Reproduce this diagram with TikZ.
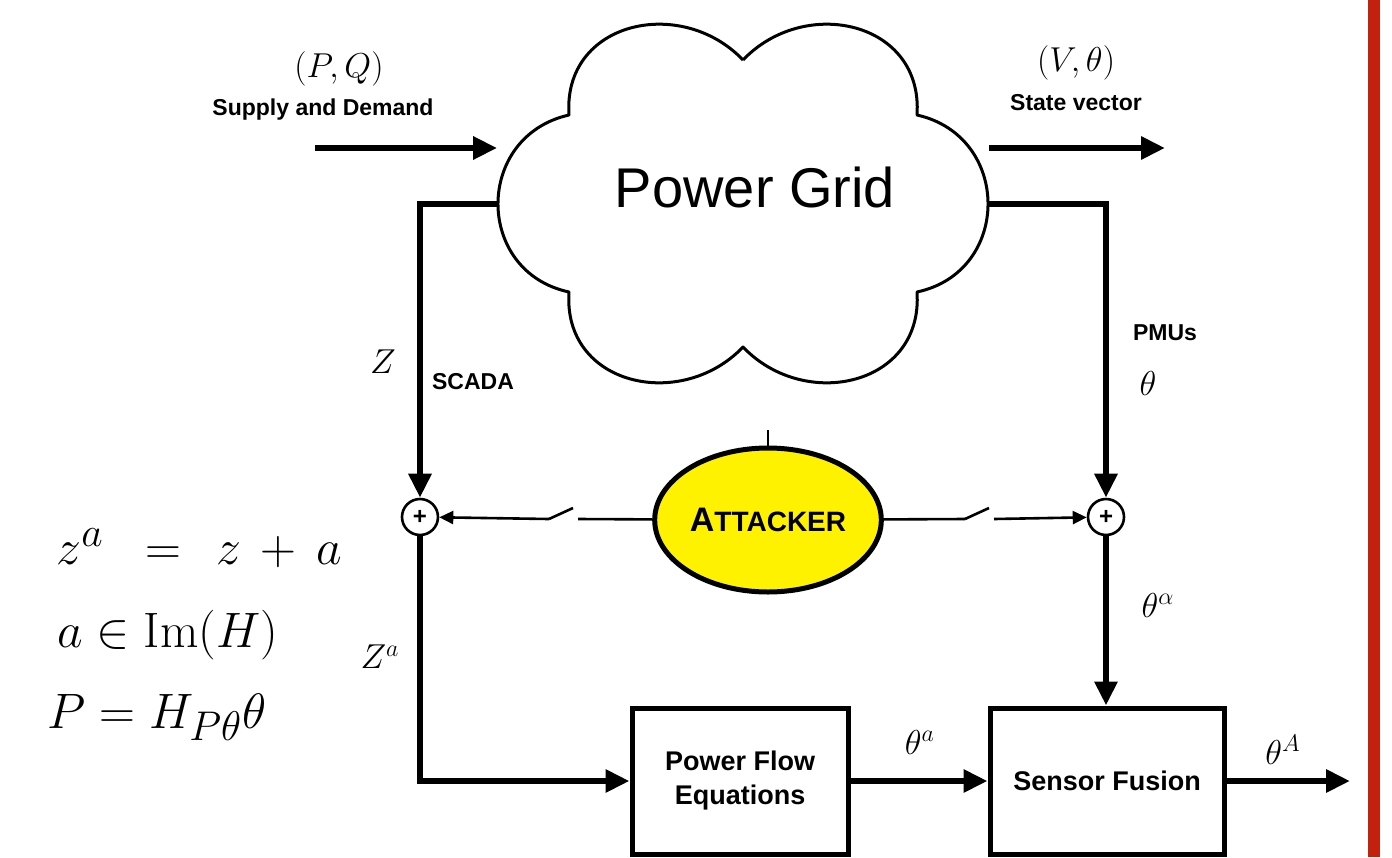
\documentclass[tikz,border=0pt]{standalone}
\usepackage{amsmath,amssymb}
\usepackage{fontspec}
\setsansfont{Liberation Sans}
\usepackage{xcolor}
\usepackage{tikz}
\usetikzlibrary{arrows.meta,positioning,shapes.geometric}

\definecolor{attackyellow}{RGB}{255,242,0}
\definecolor{barred}{RGB}{196,32,14}

\begin{document}
\begin{tikzpicture}[
  x=0.5pt, y=-0.5pt,
  every node/.style={align=center, inner sep=1pt},
  lbl/.style={font=\sffamily\bfseries\fontsize{11.5}{13}\selectfont},
  mathlbl/.style={font=\fontsize{17.28}{20}\selectfont},
  eqn/.style={font=\fontsize{24.88}{28}\selectfont, anchor=west},
  box/.style={rectangle, draw, line width=2.5pt, minimum width=108pt, minimum height=73pt, font=\sffamily\bfseries\fontsize{13.5}{17}\selectfont},
  adder/.style={circle, draw, line width=1.3pt, minimum size=18pt, inner sep=0pt, font=\sffamily\bfseries\large},
  bigarrow/.style={-{Triangle[length=12pt, width=11pt]}, line width=3pt},
  thinarrow/.style={-{Triangle[length=7pt, width=6.5pt]}, line width=1.3pt},
  thinwire/.style={line width=1.3pt}
]

% MARGINS
\useasboundingbox (0,0) rectangle (1392,857);
\fill[barred] (1368,0) rectangle (1380,857);

% POWER GRID
\node[minimum width=245.5pt, minimum height=185pt, inner sep=0pt] (grid) at (743,203.5) {};
\draw[line width=1.5pt, line join=round]
  (743,60) .. controls (805,-5) and (923.5,21.5) .. (917,115)
           .. controls (1011.7,136.3) and (1011.7,271.7) .. (917,292)
           .. controls (923.5,385.5) and (805,412) .. (743,347)
           .. controls (681,412) and (562.5,385.5) .. (569,292)
           .. controls (474.3,271.7) and (474.3,136.3) .. (569,115)
           .. controls (562.5,21.5) and (681,-5) .. (743,60);
\node[font=\sffamily\fontsize{28}{32}\selectfont] (gridname) at (755,187) {Power Grid};

% INPUT AND STATE
\coordinate (pq) at (315,148);
\coordinate (vt) at (1165,148);
\draw[bigarrow] (pq) -- (pq -| grid.west);
\draw[bigarrow] (grid.east |- vt) -- (vt);
\node[lbl] (supply) at (323,110) {Supply and Demand};
\node[mathlbl, above=4pt of supply, xshift=8pt] (pqsym) {$(P,Q)$};
\node[lbl] (state) at (1076,103) {State vector};
\node[mathlbl, above=5pt of state] (vtsym) {$(V,\theta)$};

% SCADA AND PMU
\node[adder] (sumz) at (420,517) {+};
\node[adder] (sumt) at (1106,517) {+};
\draw[bigarrow] (grid.west) -| (sumz);
\draw[bigarrow] (grid.east) -| (sumt);
\node[mathlbl] (zsym) at (383,362) {$Z$};
\node[lbl] (scadatxt) at (473,382) {SCADA};
\node[lbl] (pmutxt) at (1165,333) {PMUs};
\node[mathlbl] (thsym) at (1148,383) {$\theta$};

% ATTACKER
\node[ellipse, draw, line width=2.5pt, fill=attackyellow, minimum width=110pt, minimum height=72pt,
      font=\sffamily\bfseries] (att) at (768,520)
  {{\fontsize{17}{20}\selectfont A}{\fontsize{14}{17}\selectfont TTACKER}};
\draw[line width=0.6pt] (att.north) -- ++(0,-16);

% SWITCHES
\coordinate (swlhinge) at (549,519);
\coordinate (swltip) at (573,508);
\coordinate (swlpin) at (578,519);
\coordinate (swrhinge) at (965,519);
\coordinate (swrtip) at (989,508);
\coordinate (swrpin) at (994,519);
\draw[thinarrow] (swlhinge) -- (sumz);
\draw[thinwire] (swlhinge) -- (swltip);
\draw[thinwire] (swlpin) -- (att);
\draw[thinwire] (att) -- (swrhinge);
\draw[thinwire] (swrhinge) -- (swrtip);
\draw[thinarrow] (swrpin) -- (sumt);

% ESTIMATION
\node[box] (pfe) at (740,781) {Power Flow\\Equations};
\node[box, minimum width=117pt] (fusion) at (1107,781) {Sensor Fusion};
\coordinate (thA) at (1350,781);
\draw[bigarrow] (sumz) |- (pfe);
\draw[bigarrow] (sumt) -- (sumt |- fusion.north);
\draw[bigarrow] (pfe) -- (fusion);
\draw[bigarrow] (fusion) -- (thA);
\node[mathlbl] (zasym) at (380,657) {$Z^a$};
\node[mathlbl] (thalpha) at (1158,605) {$\theta^\alpha$};
\node[mathlbl] (thasym) at (920,742) {$\theta^a$};
\node[mathlbl] (thAsym) at (1283,750) {$\theta^A$};

% EQUATIONS
\node[eqn] (eqza) at (54,548) {$z^a \;\;=\;\, z \,+\, a$};
\node[eqn] (eqim) at (55,635) {$a \in \mathrm{Im}(H)$};
\node[eqn] (eqp) at (45,717) {$P = H_{P\theta}\theta$};

\end{tikzpicture}
\end{document}
